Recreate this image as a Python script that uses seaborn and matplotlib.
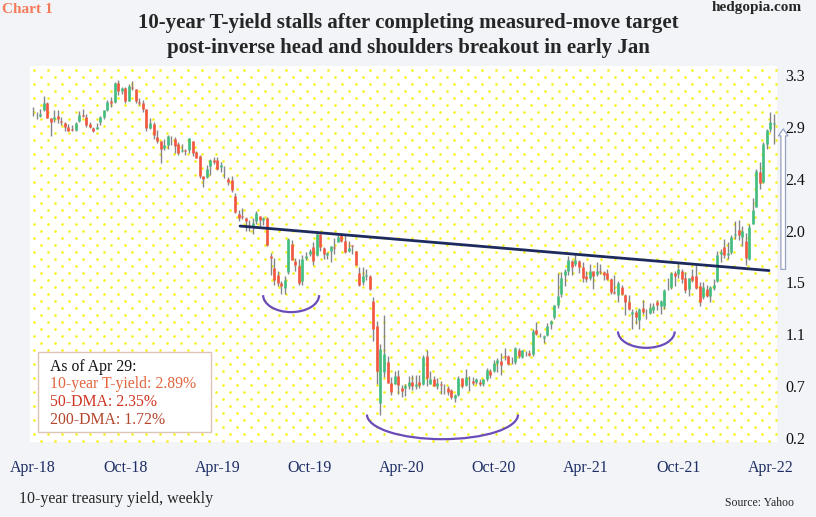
import numpy as np
import pandas as pd
import seaborn as sns
import matplotlib
matplotlib.use('Agg')
import matplotlib.pyplot as plt
from matplotlib.patches import Arc, FancyArrow, Rectangle

# weekly ^TNX bars, first week starting Mon Apr 23 2018
START_WEEK = '2018-04-23'

# 2018 / 2019 / 2020 / 2021 / 2022
open_ = [2.96, 2.95, 2.95, 3.00, 3.06, 2.93, 2.92, 2.95, 2.91, 2.89, 2.86, 2.84, 2.83, 2.91, 2.96, 2.94,
         2.88, 2.85, 2.84, 2.90, 2.94, 3.00, 3.08, 3.07, 3.23, 3.16, 3.19, 3.08, 3.20, 3.18, 3.07, 3.06,
         3.01, 2.85, 2.88, 2.77,
         2.74, 2.68, 2.70, 2.76, 2.75, 2.71, 2.65, 2.66, 2.66, 2.74, 2.64, 2.61, 2.44, 2.43, 2.52, 2.57,
         2.57, 2.51, 2.47, 2.41, 2.40, 2.27, 2.11, 2.10, 2.08, 2.02, 2.01, 2.05, 2.10, 2.06, 2.08, 1.75,
         1.65, 1.59, 1.52, 1.48, 1.62, 1.86, 1.71, 1.67, 1.54, 1.74, 1.77, 1.83, 1.76, 1.94, 1.82, 1.76,
         1.80, 1.83, 1.87, 1.93,
         1.88, 1.80, 1.85, 1.80, 1.61, 1.53, 1.58, 1.58, 1.37, 1.16, 0.50, 0.76, 0.85, 0.67, 0.66, 0.73,
         0.63, 0.63, 0.64, 0.68, 0.64, 0.68, 0.66, 0.90, 0.66, 0.70, 0.64, 0.66, 0.63, 0.63, 0.61, 0.54,
         0.57, 0.71, 0.65, 0.72, 0.69, 0.68, 0.68, 0.66, 0.70, 0.77, 0.77, 0.84, 0.86, 0.90, 0.90, 0.84,
         0.85, 0.95, 0.89, 0.94, 0.93,
         0.92, 1.12, 1.09, 1.05, 1.08, 1.17, 1.23, 1.34, 1.43, 1.59, 1.63, 1.71, 1.69, 1.71, 1.66, 1.58,
         1.57, 1.63, 1.60, 1.63, 1.62, 1.61, 1.56, 1.45, 1.42, 1.49, 1.42, 1.36, 1.26, 1.28, 1.21, 1.31,
         1.26, 1.27, 1.29, 1.36, 1.33, 1.33, 1.48, 1.49, 1.61, 1.60, 1.63, 1.57, 1.47, 1.58, 1.58, 1.50,
         1.40, 1.47, 1.41, 1.48,
         1.54, 1.77, 1.83, 1.76, 1.79, 1.93, 1.98, 1.92, 1.88, 1.73, 2.03, 2.17, 2.47, 2.39, 2.71, 2.84,
         2.88]
high = [3.03, 2.98, 3.01, 3.12, 3.07, 2.93, 3.00, 3.00, 2.94, 2.90, 2.88, 2.87, 2.90, 2.99, 3.01, 2.97,
        2.90, 2.86, 2.89, 2.95, 3.00, 3.09, 3.11, 3.24, 3.26, 3.20, 3.20, 3.22, 3.25, 3.18, 3.10, 3.09,
        3.01, 2.93, 2.90, 2.83,
        2.74, 2.75, 2.79, 2.78, 2.77, 2.73, 2.71, 2.67, 2.76, 2.74, 2.65, 2.62, 2.44, 2.53, 2.58, 2.60,
        2.60, 2.56, 2.52, 2.43, 2.44, 2.29, 2.15, 2.16, 2.09, 2.06, 2.08, 2.14, 2.10, 2.09, 2.09, 1.78,
        1.74, 1.63, 1.54, 1.58, 1.91, 1.89, 1.74, 1.73, 1.76, 1.79, 1.81, 1.87, 1.97, 1.94, 1.83, 1.79,
        1.84, 1.91, 1.94, 1.94,
        1.93, 1.88, 1.85, 1.80, 1.66, 1.66, 1.64, 1.59, 1.40, 1.20, 1.00, 1.25, 0.90, 0.72, 0.77, 0.78,
        0.65, 0.66, 0.73, 0.74, 0.74, 0.74, 0.91, 0.95, 0.77, 0.73, 0.71, 0.69, 0.66, 0.64, 0.62, 0.58,
        0.73, 0.71, 0.79, 0.73, 0.72, 0.71, 0.70, 0.70, 0.80, 0.79, 0.87, 0.88, 0.93, 0.97, 0.91, 0.89,
        0.98, 0.97, 0.95, 0.94, 0.95,
        1.13, 1.19, 1.10, 1.08, 1.18, 1.21, 1.34, 1.61, 1.62, 1.64, 1.75, 1.72, 1.77, 1.72, 1.70, 1.63,
        1.69, 1.63, 1.70, 1.69, 1.63, 1.64, 1.57, 1.59, 1.54, 1.51, 1.43, 1.42, 1.30, 1.29, 1.31, 1.38,
        1.30, 1.35, 1.35, 1.38, 1.38, 1.47, 1.57, 1.62, 1.63, 1.70, 1.64, 1.62, 1.57, 1.64, 1.69, 1.53,
        1.53, 1.51, 1.50, 1.56,
        1.80, 1.81, 1.90, 1.87, 1.93, 2.05, 2.06, 2.01, 1.95, 2.03, 2.25, 2.50, 2.56, 2.73, 2.84, 2.98,
        2.97]
low = [2.95, 2.92, 2.94, 2.99, 2.93, 2.78, 2.90, 2.89, 2.87, 2.82, 2.82, 2.82, 2.82, 2.90, 2.94, 2.86,
       2.85, 2.81, 2.84, 2.87, 2.92, 2.99, 3.03, 3.06, 3.13, 3.14, 3.06, 3.08, 3.17, 3.06, 3.04, 2.98,
       2.82, 2.84, 2.75, 2.72,
       2.55, 2.66, 2.67, 2.70, 2.63, 2.62, 2.64, 2.62, 2.63, 2.61, 2.59, 2.42, 2.34, 2.42, 2.45, 2.54,
       2.49, 2.47, 2.42, 2.36, 2.30, 2.12, 2.05, 2.07, 1.97, 1.97, 1.94, 2.03, 2.01, 2.02, 1.84, 1.59,
       1.51, 1.50, 1.43, 1.43, 1.60, 1.72, 1.63, 1.51, 1.51, 1.72, 1.75, 1.68, 1.75, 1.80, 1.73, 1.73,
       1.70, 1.77, 1.87, 1.87,
       1.78, 1.79, 1.77, 1.68, 1.50, 1.51, 1.55, 1.46, 1.03, 0.66, 0.40, 0.72, 0.67, 0.57, 0.66, 0.58,
       0.55, 0.56, 0.62, 0.61, 0.62, 0.63, 0.65, 0.64, 0.66, 0.64, 0.62, 0.58, 0.58, 0.57, 0.53, 0.51,
       0.56, 0.63, 0.64, 0.60, 0.65, 0.66, 0.64, 0.64, 0.69, 0.71, 0.76, 0.76, 0.74, 0.87, 0.82, 0.83,
       0.83, 0.88, 0.88, 0.90, 0.90,
       0.90, 1.08, 1.06, 1.01, 1.07, 1.13, 1.22, 1.31, 1.40, 1.50, 1.59, 1.59, 1.67, 1.61, 1.53, 1.53,
       1.55, 1.47, 1.58, 1.60, 1.55, 1.55, 1.43, 1.43, 1.36, 1.42, 1.25, 1.29, 1.13, 1.17, 1.13, 1.26,
       1.22, 1.26, 1.27, 1.29, 1.26, 1.30, 1.46, 1.47, 1.50, 1.57, 1.52, 1.44, 1.41, 1.53, 1.47, 1.33,
       1.39, 1.40, 1.36, 1.46,
       1.53, 1.70, 1.74, 1.73, 1.77, 1.90, 1.89, 1.84, 1.68, 1.72, 2.03, 2.17, 2.33, 2.38, 2.67, 2.81,
       2.71]
close = [2.96, 2.95, 2.97, 3.06, 2.93, 2.90, 2.94, 2.92, 2.90, 2.86, 2.82, 2.83, 2.89, 2.96, 2.95, 2.87,
         2.86, 2.82, 2.86, 2.94, 3.00, 3.07, 3.06, 3.23, 3.16, 3.19, 3.08, 3.21, 3.19, 3.08, 3.06, 3.01,
         2.85, 2.89, 2.79, 2.74,
         2.67, 2.70, 2.78, 2.76, 2.69, 2.63, 2.66, 2.65, 2.76, 2.63, 2.59, 2.44, 2.41, 2.50, 2.57, 2.56,
         2.50, 2.53, 2.47, 2.39, 2.32, 2.13, 2.08, 2.09, 2.05, 2.01, 2.04, 2.12, 2.06, 2.08, 1.85, 1.74,
         1.55, 1.52, 1.50, 1.55, 1.90, 1.72, 1.68, 1.52, 1.73, 1.75, 1.80, 1.71, 1.94, 1.83, 1.77, 1.78,
         1.84, 1.82, 1.92, 1.88,
         1.79, 1.82, 1.84, 1.68, 1.51, 1.58, 1.59, 1.47, 1.13, 0.77, 0.96, 0.92, 0.67, 0.59, 0.73, 0.65,
         0.60, 0.64, 0.68, 0.64, 0.66, 0.65, 0.89, 0.71, 0.70, 0.64, 0.67, 0.65, 0.63, 0.59, 0.55, 0.57,
         0.71, 0.64, 0.72, 0.72, 0.67, 0.70, 0.66, 0.70, 0.78, 0.74, 0.84, 0.87, 0.82, 0.89, 0.83, 0.84,
         0.97, 0.90, 0.95, 0.94, 0.91,
         1.11, 1.09, 1.09, 1.07, 1.16, 1.20, 1.34, 1.41, 1.57, 1.63, 1.72, 1.66, 1.72, 1.66, 1.57, 1.56,
         1.63, 1.58, 1.63, 1.62, 1.59, 1.56, 1.45, 1.44, 1.52, 1.43, 1.36, 1.30, 1.28, 1.23, 1.30, 1.28,
         1.26, 1.31, 1.33, 1.34, 1.37, 1.46, 1.48, 1.61, 1.58, 1.64, 1.56, 1.46, 1.57, 1.55, 1.48, 1.36,
         1.49, 1.41, 1.49, 1.51,
         1.76, 1.79, 1.76, 1.78, 1.92, 1.94, 1.93, 1.97, 1.74, 2.00, 2.15, 2.48, 2.38, 2.71, 2.83, 2.90,
         2.89]

y_tick_labels = ['0.2', '0.7', '1.1', '1.5', '2.0', '2.4', '2.9', '3.3']
box_lines = ['As of Apr 29:', '10-year T-yield: 2.89%', '50-DMA: 2.35%', '200-DMA: 1.72%']
box_colors = ['#111111', '#e2653f', '#cf3522', '#b3462c']

# annotations (x in weeks since start, y in yield)
neck_x = [58.4, 207.6]
neck_y = [2.01, 1.63]
cups = [(72.8, 1.42, 15.8, 0.29), (115.5, 0.40, 42.6, 0.42), (173.0, 1.11, 16.0, 0.28)]
move_from, move_to = 1.64, 2.84

W, H = 816, 517
GREEN, RED, WICK = '#42bf80', '#f4563f', '#858585'


def fx(px):
    return px / W


def fy(py):
    return 1 - py / H


df = pd.DataFrame({'open': open_, 'high': high, 'low': low, 'close': close})
df['date'] = pd.date_range(START_WEEK, periods=len(df), freq='W-MON')
df['week'] = np.arange(len(df))
up = df[df.close >= df.open]
down = df[df.close < df.open]

sns.set_theme(style='white')
plt.rcParams['font.family'] = ['Liberation Serif', 'DejaVu Serif']

fig = plt.figure(figsize=(W / 100, H / 100), dpi=100, facecolor='#f2f4f8')
ax = fig.add_axes([fx(30), fy(442), fx(747), 376 / H])
ax.set_facecolor('white')

# yellow dot pattern of the plot area
dots = []
for r, yy in enumerate(np.arange(4, 376, 7)):
    off = 4 if r % 2 == 0 else 11
    for xx in np.arange(off, 747, 14):
        dots.append((xx / 747, 1 - yy / 376))
dots = np.array(dots)
ax.scatter(dots[:, 0], dots[:, 1], s=3.6, color='#f7ef1e', linewidths=0,
           transform=ax.transAxes, zorder=0)

# weekly candles
ax.vlines(df.week, df.low, df.high, color=WICK, lw=1.0, zorder=2)
ax.vlines(up.week, up.open, up.close, color=GREEN, lw=1.9, zorder=3)
ax.vlines(down.week, down.open, down.close, color=RED, lw=1.9, zorder=3)

# neckline and the three troughs
sns.lineplot(x=neck_x, y=neck_y, color='#1d2a5e', lw=2.0, ax=ax, zorder=4)
for cx, cy, w, h in cups:
    ax.add_patch(Arc((cx, cy), w, h, theta1=180, theta2=360, color='#6a4cb8', lw=1.6, zorder=4))

# measured move arrow
ax.add_patch(FancyArrow(211.6, move_from, 0, move_to - move_from, width=1.3, head_width=2.7,
                        head_length=0.06, length_includes_head=True, facecolor='white',
                        edgecolor='#97a1c6', lw=0.9, clip_on=False, zorder=5))

ax.set_xlim(-0.85, len(df) - 1 + 0.85)
ax.set_ylim(0.2 - 4 / 117.1, 0.2 + 372 / 117.1)
xt = df.week[::26]
ax.set_xticks(xt)
ax.set_xticklabels(df.date[::26].dt.strftime('%b-%y'), color='#1e2d63', fontsize=11.5)
ax.set_yticks(np.linspace(0.2, 3.3, len(y_tick_labels)))
ax.set_yticklabels(y_tick_labels, fontsize=11.5, color='#111111')
ax.yaxis.tick_right()
ax.tick_params(axis='x', length=0, pad=13)
ax.tick_params(axis='y', length=0, pad=6)
sns.despine(ax=ax, left=True, bottom=True, right=True, top=True)
ax.grid(False)

# info box
fig.patches.append(Rectangle((fx(38), fy(432)), fx(173), 80 / H, transform=fig.transFigure,
                             facecolor='white', edgecolor='#dcc5b6', lw=1.0, zorder=6))
for i, (txt, col) in enumerate(zip(box_lines, box_colors)):
    fig.text(fx(50), fy(367 + 17.5 * i), txt, color=col, fontsize=11.3, va='center', ha='left', zorder=7)

fig.text(0.5, fy(23), '10-year T-yield stalls after completing measured-move target',
         ha='center', va='center', fontsize=15, fontweight='bold')
fig.text(0.5, fy(48), 'post-inverse head and shoulders breakout in early Jan',
         ha='center', va='center', fontsize=15, fontweight='bold')
fig.text(fx(2), fy(9), 'Chart 1', color='#f47c5c', fontsize=11, fontweight='bold', va='center')
fig.text(fx(802), fy(8), 'hedgopia.com', fontsize=11, fontweight='bold', ha='right', va='center')
fig.text(fx(19), fy(499), '10-year treasury yield, weekly', fontsize=11.5, va='center')
fig.text(fx(794), fy(503), 'Source: Yahoo', fontsize=8.5, ha='right', va='center')

fig.savefig('out.png', dpi=100, facecolor=fig.get_facecolor())
